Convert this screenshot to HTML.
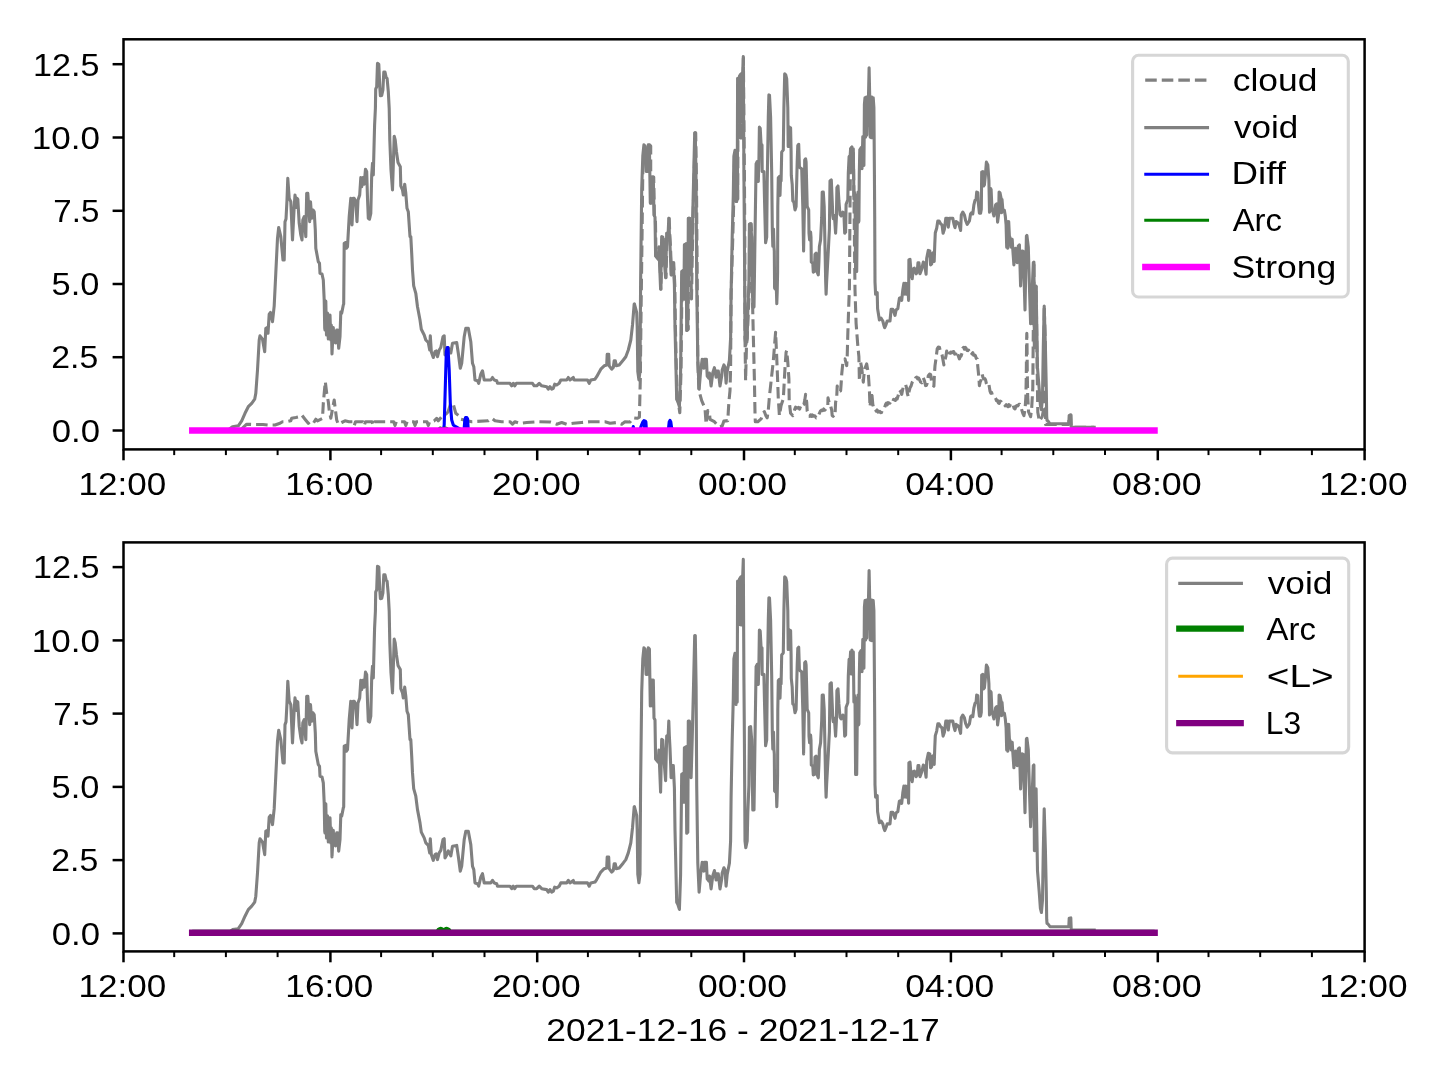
<!DOCTYPE html>
<html><head><meta charset="utf-8"><title>plot</title>
<style>html,body{margin:0;padding:0;background:#fff;}body{width:1440px;height:1080px;overflow:hidden;}svg{display:block;will-change:transform;}text{font-family:"Liberation Sans",sans-serif;fill:#000;}</style>
</head><body>
<svg width="1440" height="1080" viewBox="0 0 1440 1080">
<rect x="0" y="0" width="1440" height="1080" fill="#ffffff"/>
<defs><clipPath id="c1"><rect x="123.5" y="39.3" width="1241.1" height="410.09999999999997"/></clipPath><clipPath id="c2"><rect x="123.5" y="542.4" width="1241.1" height="409.0"/></clipPath></defs>
<g clip-path="url(#c1)" fill="none" stroke-linejoin="round">
<polyline points="192.2,430.5 240.0,430.3 246.7,424.2 253.0,424.5 263.0,424.5 268.0,425.0 275.0,425.0 280.0,423.3 282.5,421.7 286.7,421.7 290.8,420.8 291.7,418.3 295.8,417.5 299.2,416.7 301.7,415.0 305.0,419.2 308.3,423.3 310.0,421.7 313.3,423.3 315.8,419.2 317.5,420.8 322.5,418.3 323.3,403.3 324.2,393.3 325.3,381.7 326.7,393.3 328.3,401.7 329.2,410.0 330.8,418.3 332.0,411.7 334.2,400.0 335.0,406.7 336.7,420.0 338.3,424.2 341.7,422.5 345.0,420.8 349.0,421.7 352.9,421.7 354.2,425.6 355.5,421.7 362.9,421.7 364.2,425.6 365.5,421.7 372.0,421.7 373.3,425.6 374.6,421.7 393.7,421.7 395.0,425.6 396.3,421.7 404.5,421.7 405.8,425.6 407.1,421.7 413.7,421.7 415.0,425.6 416.3,421.7 427.0,421.7 428.3,425.6 429.6,421.7 434.0,421.0 436.7,418.3 438.3,420.8 441.7,416.7 445.0,415.0 448.0,412.0 450.8,403.3 453.3,404.2 455.8,413.3 460.0,416.7 460.8,419.2 471.7,421.7 488.3,420.8 491.7,418.3 495.0,420.8 501.7,421.7 510.0,421.7 512.5,424.2 515.0,421.7 520.0,423.3 526.7,422.5 538.3,421.7 550.0,422.0 556.7,424.2 561.7,422.5 566.7,424.2 573.3,423.3 581.7,422.5 590.0,421.7 596.7,421.7 605.0,421.7 610.0,423.3 616.7,422.5 621.7,424.2 625.0,421.7 630.0,422.0 633.3,417.8 637.2,418.3 639.4,417.2 640.3,379.4 641.2,300.0 642.0,240.0 642.8,170.0 645.2,144.9 646.3,146.1 647.4,171.5 648.5,171.5 649.6,144.9 650.7,146.1 650.7,203.1 652.4,177.1 652.9,203.1 653.7,177.1 654.4,215.1 655.4,217.1 656.0,256.0 658.7,259.3 659.3,247.1 661.0,289.3 662.1,236.5 663.2,237.1 664.3,256.0 666.0,277.7 667.1,233.2 668.6,232.1 669.2,218.2 669.7,232.1 670.4,245.1 671.0,260.4 671.5,274.9 673.2,262.7 673.7,262.7 674.8,284.9 675.4,327.1 677.1,399.3 678.2,401.5 679.8,412.8 681.0,371.5 682.1,271.5 683.7,270.4 684.3,299.3 684.8,244.9 686.5,243.8 687.1,330.4 688.2,329.3 688.7,218.2 689.8,218.2 691.5,299.0 692.6,237.1 693.9,183.8 695.1,132.7 695.7,132.7 696.5,183.8 697.8,360.4 698.9,390.6 701.7,400.6 705.0,408.3 706.1,423.9 707.8,410.6 709.4,411.7 710.0,419.4 714.4,421.7 718.9,426.7 722.2,426.1 723.9,421.1 727.8,420.6 728.3,411.7 728.9,401.7 730.0,390.6 730.6,368.3 731.1,293.8 732.8,237.1 733.9,194.9 734.5,156.0 735.6,150.4 736.7,201.5 737.3,150.4 737.8,199.1 738.0,90.0 738.6,140.0 739.4,78.0 740.2,138.0 740.9,76.0 741.6,140.0 742.3,74.0 742.9,120.0 743.4,58.0 743.9,120.0 744.4,172.7 744.8,237.0 745.0,338.0 745.6,380.6 746.5,345.0 747.2,338.0 748.4,310.4 749.5,282.7 750.0,224.3 751.2,223.8 751.7,237.0 752.5,300.0 753.3,335.0 754.4,379.4 755.0,412.8 755.3,421.7 757.8,421.7 761.1,418.9 763.3,412.8 764.4,411.7 766.0,416.0 767.2,417.8 768.3,410.0 769.4,396.7 771.1,381.1 773.3,361.1 775.6,332.2 776.7,356.7 777.8,384.4 778.3,398.9 779.4,415.6 781.1,405.6 783.3,398.9 784.4,378.9 785.0,367.8 786.1,352.2 786.7,350.6 787.8,362.2 788.9,378.9 789.2,401.1 790.6,413.3 792.8,415.6 793.7,413.5 794.7,409.3 795.6,407.2 796.7,408.2 797.8,407.8 798.6,407.4 799.5,409.1 800.3,407.9 801.1,408.9 802.0,408.1 803.0,405.2 803.9,404.4 804.8,400.1 805.6,394.4 806.7,402.2 807.2,411.1 808.0,412.7 808.9,415.6 809.7,416.3 810.6,414.9 811.4,416.3 812.2,414.9 813.1,416.3 813.9,415.6 815.0,416.0 816.1,417.8 816.9,417.4 817.8,414.9 818.6,415.1 819.4,413.3 820.5,410.9 821.7,410.0 822.7,410.6 823.7,409.0 824.6,410.2 825.6,409.4 826.7,407.3 827.8,406.7 828.0,397.8 829.0,402.0 829.9,405.4 830.8,406.6 831.7,410.0 832.2,415.6 833.1,416.3 834.1,414.9 835.0,415.6 835.6,402.2 836.7,397.8 837.2,386.0 838.0,391.0 840.6,391.0 841.1,384.4 841.7,374.4 842.8,363.3 845.0,358.9 846.7,365.6 847.2,356.7 847.8,334.4 848.9,301.1 849.4,290.0 850.0,210.0 850.6,149.0 851.9,147.1 853.3,149.0 854.0,200.0 855.0,290.0 856.1,323.3 857.8,345.6 858.9,356.7 859.4,381.1 860.6,362.2 861.7,367.8 863.3,382.2 864.4,370.0 866.7,363.9 868.3,373.3 869.4,390.0 870.0,406.7 871.7,392.0 872.8,404.4 873.6,407.8 874.4,409.4 875.3,409.0 876.2,411.2 877.1,409.9 878.0,412.1 878.9,411.7 879.8,411.4 880.6,412.8 881.5,412.6 882.4,409.6 883.3,409.4 884.5,407.8 885.6,404.4 886.4,403.2 887.2,404.8 888.1,402.7 888.9,403.3 890.0,403.1 891.1,401.1 891.9,399.9 892.8,401.4 893.6,399.4 894.4,400.0 895.3,400.5 896.3,398.4 897.2,398.9 898.3,395.3 899.4,390.0 900.5,391.3 901.7,394.4 903.3,386.7 904.5,386.4 905.6,384.4 906.5,387.6 907.4,393.5 908.3,396.7 909.1,391.4 910.0,387.8 911.1,385.9 912.2,382.2 913.0,380.8 913.9,381.1 914.8,380.7 915.8,377.6 916.7,377.2 917.6,378.8 918.5,377.8 919.4,379.4 920.5,382.0 921.7,382.8 923.3,377.8 924.5,380.8 925.6,385.6 926.4,385.4 927.2,383.3 928.3,375.6 929.5,374.1 930.6,374.4 931.7,382.2 932.8,385.0 933.9,386.1 934.4,374.4 935.0,365.6 936.1,357.8 937.2,348.9 938.3,347.1 939.4,347.2 940.2,350.6 941.1,352.2 942.0,354.6 942.8,358.9 943.9,365.0 945.0,360.0 945.9,356.4 946.7,351.1 948.3,356.7 949.5,353.6 950.6,352.2 951.7,352.8 952.8,351.7 953.7,351.5 954.7,354.1 955.6,353.9 956.4,351.6 957.2,351.1 958.3,355.9 959.4,358.9 960.2,356.6 961.1,356.1 962.0,353.1 962.8,348.3 963.6,347.4 964.5,349.2 965.3,347.4 966.1,348.3 967.0,350.4 967.8,350.6 968.6,350.1 969.5,352.3 970.3,350.9 971.1,352.2 971.9,353.8 972.8,352.7 973.6,355.2 974.4,355.0 975.3,355.4 976.3,358.5 977.2,358.9 977.8,366.7 978.9,377.8 979.4,385.6 980.2,381.9 981.1,380.0 982.2,374.4 983.0,377.5 983.9,378.9 984.8,378.6 985.6,380.0 986.4,383.7 987.2,385.6 988.0,384.1 988.9,384.4 990.0,391.1 990.8,393.1 991.6,392.5 992.5,395.4 993.3,395.6 994.5,396.1 995.6,398.3 996.5,400.7 997.4,400.4 998.3,402.8 999.2,403.3 1000.2,401.2 1001.1,401.7 1002.2,403.7 1003.3,403.9 1004.3,403.6 1005.2,405.9 1006.2,404.7 1007.2,406.1 1008.0,406.7 1008.9,404.6 1009.7,406.1 1010.5,404.1 1011.4,405.6 1012.2,404.4 1013.1,405.0 1014.1,408.3 1015.0,408.9 1015.9,406.4 1016.7,405.6 1017.8,405.9 1018.9,404.4 1019.8,404.4 1020.6,406.1 1022.8,413.3 1023.9,415.6 1025.0,410.0 1025.9,396.7 1026.3,374.4 1026.6,341.1 1026.8,333.3 1027.0,341.1 1027.3,374.4 1027.7,396.7 1028.6,412.0 1030.6,416.7 1031.7,407.8 1032.8,387.8 1033.3,330.0 1033.9,262.1 1034.4,347.7 1036.1,286.0 1037.2,370.0 1037.8,412.2 1039.4,421.1 1042.2,416.7 1043.9,407.8 1044.2,306.0 1045.4,347.0 1045.6,424.4 1050.0,424.5 1068.8,424.5 1069.2,415.4 1070.8,415.0 1071.2,426.8 1072.0,427.2 1094.2,427.2" stroke="#808080" stroke-width="3.1" stroke-dasharray="11.56 5" stroke-linecap="butt"/>
<polyline points="192.2,430.5 228.0,430.3 232.5,426.7 238.3,425.8 241.7,420.8 245.0,413.3 248.3,406.7 251.7,403.3 254.7,399.2 255.8,393.3 257.5,370.0 259.2,340.0 260.0,335.8 262.5,339.2 264.7,351.7 265.8,328.3 267.5,327.5 268.0,333.3 269.2,314.2 270.5,312.5 272.5,321.7 274.2,305.8 275.8,273.0 277.5,238.3 278.7,227.5 280.8,236.7 283.0,260.0 284.2,260.0 285.0,221.7 286.0,219.0 287.0,200.0 287.8,178.3 289.2,198.3 290.8,201.7 292.5,240.0 294.2,206.7 295.0,195.0 296.3,207.5 297.0,198.3 297.8,199.2 299.2,223.3 300.8,235.0 302.0,240.0 302.8,220.0 304.2,216.7 305.8,236.7 306.7,193.3 307.8,193.3 309.7,221.7 310.5,201.7 311.7,218.3 313.0,210.0 314.2,211.7 315.3,230.0 315.8,248.3 318.3,261.7 319.5,263.3 320.0,273.3 322.0,274.0 323.3,280.0 324.2,300.0 324.7,328.0 325.0,330.0 325.8,301.0 326.5,335.0 327.5,313.0 328.3,339.0 330.0,315.0 330.8,340.0 331.3,325.0 332.0,354.0 333.3,327.5 334.0,342.0 335.0,331.7 335.5,343.0 336.7,330.0 337.5,330.0 338.7,348.3 340.0,336.7 340.8,311.7 341.7,313.3 343.3,305.0 343.7,304.0 344.2,243.3 345.8,242.5 346.3,248.3 347.5,246.7 349.2,216.7 350.8,198.3 352.0,225.0 353.3,198.3 354.2,198.3 355.8,201.7 357.0,221.7 358.0,200.0 359.7,195.0 360.8,177.5 361.7,186.7 363.0,177.5 364.2,184.2 365.5,169.2 366.7,171.7 367.5,198.3 368.3,218.3 369.5,219.2 370.8,213.3 371.7,175.0 372.5,163.3 373.3,175.0 374.2,140.0 374.6,125.0 375.4,108.3 375.7,89.2 376.7,86.7 377.5,63.3 378.8,64.2 379.8,87.5 380.4,95.8 381.7,95.4 382.9,90.0 383.8,72.0 385.0,72.0 386.2,77.5 387.1,78.3 388.3,91.7 389.2,108.3 389.8,140.0 391.0,170.0 392.5,190.0 393.3,165.0 394.2,136.2 395.2,140.0 396.5,152.0 398.0,162.5 400.3,166.7 400.8,185.8 402.5,190.0 403.3,195.0 404.7,184.2 405.8,193.3 407.0,208.3 408.3,211.7 410.0,236.7 410.8,236.7 411.7,253.3 412.5,270.0 413.7,285.8 415.8,293.3 417.5,306.7 420.0,320.0 421.3,329.2 424.2,335.0 425.8,340.0 428.3,342.5 429.7,350.0 430.3,335.8 431.3,351.7 433.3,357.5 435.0,351.7 436.2,351.0 437.5,356.7 439.2,350.0 440.8,347.5 443.0,336.7 444.2,335.8 445.0,355.0 446.7,352.0 448.3,348.0 450.8,353.0 452.5,343.3 456.7,342.5 458.3,353.3 460.3,368.3 461.7,363.3 464.2,336.7 465.8,328.3 468.3,328.3 470.8,341.7 472.5,363.3 473.8,366.7 475.0,380.0 477.5,380.8 478.7,383.3 480.8,374.2 482.5,370.8 484.2,380.0 490.8,380.0 492.5,377.5 494.2,380.0 496.7,380.8 497.5,383.3 510.0,383.3 511.7,385.8 513.3,383.3 514.7,385.8 516.3,383.3 532.5,383.3 534.2,385.8 536.7,385.8 539.2,383.3 541.7,385.8 546.7,386.7 548.3,389.2 550.0,386.7 551.7,389.2 553.3,388.3 554.7,384.2 556.7,385.0 559.2,383.3 560.8,380.0 566.7,380.0 568.3,377.5 570.0,380.0 573.3,377.5 574.2,380.0 587.5,380.0 589.2,383.3 590.8,380.0 595.0,379.2 596.7,376.7 600.8,369.2 604.2,365.8 606.7,365.0 607.2,354.2 608.7,354.2 609.2,365.8 611.7,369.2 613.3,367.5 614.2,360.8 615.3,360.8 616.3,365.8 619.2,365.0 623.3,360.0 625.8,356.7 628.3,350.0 630.8,340.0 632.5,325.0 634.2,304.0 634.4,303.8 636.7,312.7 637.2,327.1 637.8,371.5 638.9,379.9 640.0,371.5 640.6,282.7 641.7,189.3 642.8,156.0 643.9,144.9 645.0,146.1 646.1,171.5 647.2,171.5 648.3,144.9 649.4,146.1 650.3,203.1 652.0,177.1 652.5,203.1 653.3,177.1 654.0,215.1 655.0,217.1 655.6,256.0 658.3,259.3 658.9,247.1 660.6,289.3 661.7,236.5 662.8,237.1 663.9,256.0 665.6,277.7 666.7,233.2 668.2,232.1 668.8,218.2 669.3,232.1 670.0,245.1 670.6,260.4 671.1,274.9 672.8,262.7 673.3,262.7 674.4,284.9 675.0,327.1 676.7,399.3 677.8,401.5 679.4,406.5 680.6,371.5 681.7,271.5 683.3,270.4 683.9,299.3 684.4,244.9 686.1,243.8 686.7,330.4 687.8,329.3 688.3,218.2 689.4,218.2 691.1,274.9 692.2,237.1 693.5,183.8 694.7,132.7 695.3,132.7 696.1,183.8 696.7,282.7 697.8,360.4 699.1,389.3 700.6,371.5 702.2,359.3 703.9,368.2 704.4,359.3 706.4,359.3 707.2,376.0 708.9,378.2 709.5,373.1 711.1,386.0 712.8,372.7 714.4,367.7 716.1,377.1 716.7,371.0 718.3,371.0 720.0,386.0 721.7,376.0 722.2,370.1 723.9,364.9 725.0,367.1 726.1,383.2 727.2,371.5 729.4,360.4 730.6,338.2 731.1,293.8 732.2,237.1 733.3,194.9 733.9,156.0 735.0,150.4 736.1,201.5 736.7,150.4 737.2,199.1 737.6,78.2 738.5,122.1 739.5,76.1 740.6,74.3 741.2,122.1 741.8,73.1 742.3,117.1 742.8,70.1 743.3,56.5 743.9,172.7 744.4,237.1 745.0,338.2 745.8,344.9 747.2,338.1 747.8,310.4 748.9,282.7 749.4,224.3 750.6,223.8 751.7,237.1 752.8,307.1 753.5,290.1 754.0,307.1 755.0,237.1 756.1,163.8 757.2,161.5 758.3,181.5 758.9,161.5 759.4,127.1 760.2,128.1 761.1,144.9 762.0,144.9 762.2,171.5 763.9,171.5 764.4,194.9 765.6,242.7 766.7,237.1 767.2,183.8 768.3,117.1 768.9,94.9 769.5,95.1 770.6,117.1 771.7,172.7 772.3,228.1 772.8,246.1 773.5,229.1 774.0,247.1 774.3,251.1 774.6,288.1 776.4,290.1 776.8,303.8 777.2,292.1 777.6,272.1 777.8,206.5 778.3,177.7 779.4,176.5 780.0,195.4 780.6,177.1 781.1,181.0 781.7,152.1 783.3,149.9 783.9,107.7 784.7,73.8 785.8,75.1 786.7,78.8 787.8,107.7 788.2,146.5 788.9,126.5 789.6,146.5 790.6,127.7 791.1,152.1 791.3,175.4 792.2,184.3 792.8,201.0 793.9,202.1 795.0,209.9 796.1,206.5 797.2,162.1 797.8,145.4 798.7,144.3 799.4,166.5 800.0,167.7 801.7,168.8 802.8,206.5 803.6,251.0 804.4,208.8 804.7,159.9 805.6,158.8 806.1,162.1 807.2,206.5 808.7,209.9 809.0,233.2 809.6,239.9 810.6,232.1 811.0,237.1 811.3,262.1 812.8,263.2 813.3,272.1 814.4,271.5 815.0,254.3 816.1,253.2 817.2,272.1 818.3,274.9 818.9,262.1 819.4,246.5 820.6,239.9 821.7,217.7 822.2,192.1 823.3,192.1 824.2,206.5 825.7,282.1 826.1,294.3 826.6,282.1 828.3,251.0 829.4,228.8 830.0,181.0 831.3,179.9 832.2,201.0 832.8,215.4 833.3,218.8 834.4,215.4 835.6,233.2 836.4,217.7 836.9,187.7 838.0,186.0 838.9,201.0 840.0,214.3 841.1,216.0 842.8,212.1 843.9,213.2 844.7,233.2 845.6,232.1 846.1,204.3 847.8,199.9 848.3,173.2 849.1,156.5 850.2,155.4 850.6,148.8 851.2,171.1 851.9,147.1 852.5,171.1 853.3,148.8 853.6,172.1 853.9,199.1 854.3,192.1 855.0,195.4 855.6,271.5 856.7,271.5 857.2,223.2 858.0,192.1 858.5,222.1 858.9,221.0 859.3,173.1 859.8,149.9 861.1,147.7 862.0,168.8 862.8,136.5 863.9,165.4 864.2,134.9 864.4,104.3 865.0,97.7 865.6,137.1 866.2,97.1 866.8,135.1 867.4,97.1 868.0,125.1 868.5,96.5 869.1,67.7 869.7,96.5 870.2,137.1 870.8,97.1 871.4,137.7 872.0,97.1 872.6,137.7 873.2,97.7 873.9,107.7 874.4,172.1 874.7,217.1 875.0,282.1 875.6,294.3 877.2,292.7 877.6,308.8 879.4,319.9 881.1,318.2 882.8,321.0 883.9,325.4 884.7,327.7 886.1,324.3 887.2,321.0 890.0,321.0 891.1,309.3 892.8,309.3 893.9,312.1 895.0,315.4 896.1,309.9 897.8,308.8 898.3,305.4 899.4,298.2 900.6,297.7 901.7,300.4 902.8,289.9 903.9,283.2 904.8,294.1 905.6,283.2 906.1,294.3 907.8,283.2 908.6,300.4 908.9,259.9 910.0,259.3 911.1,273.2 912.2,278.8 913.3,268.8 914.4,268.2 916.1,273.8 917.2,272.1 918.0,262.7 918.9,262.7 920.0,273.8 921.7,269.1 923.3,262.1 924.4,263.2 926.1,274.3 926.7,258.2 928.3,250.4 929.8,251.0 930.6,264.9 931.7,263.8 932.2,253.8 933.3,252.7 934.2,261.5 934.8,243.8 935.3,232.7 936.7,228.2 937.8,221.0 939.1,221.0 940.6,223.8 942.0,224.9 943.1,233.2 944.4,229.3 945.8,218.2 947.2,218.2 948.3,227.1 949.4,218.2 952.8,218.2 953.9,223.8 955.0,227.7 956.1,221.5 957.8,222.7 959.1,224.9 960.6,230.4 961.3,214.9 962.8,212.1 964.4,214.9 965.6,220.4 967.2,224.3 969.4,221.0 970.6,213.8 971.7,212.7 972.8,213.8 973.9,204.9 975.0,200.4 976.1,199.3 976.7,192.1 977.8,192.7 978.3,202.7 979.4,213.2 980.6,213.2 981.3,209.3 981.7,172.1 982.8,171.5 983.6,186.0 984.4,184.9 985.6,172.7 986.4,162.1 987.8,164.9 988.9,180.4 989.5,212.1 990.3,188.2 991.1,189.3 992.0,210.1 992.8,211.5 993.9,216.0 995.6,204.9 996.7,203.8 997.6,222.1 998.7,213.8 999.1,192.1 1000.0,192.7 1001.1,198.2 1001.6,212.7 1002.0,199.3 1002.8,209.3 1004.4,210.4 1005.3,216.0 1006.1,224.9 1006.7,247.1 1007.2,221.5 1007.8,248.2 1008.7,221.5 1009.4,236.0 1010.6,239.3 1011.1,247.1 1012.2,239.3 1012.8,249.3 1013.9,264.9 1015.6,248.2 1017.2,262.7 1018.3,246.0 1019.4,244.9 1020.6,286.0 1022.2,251.0 1023.3,251.5 1025.0,309.9 1026.4,236.0 1026.9,235.4 1028.3,247.1 1029.4,286.0 1030.6,323.8 1031.7,302.7 1033.3,262.7 1033.9,262.1 1034.4,347.7 1036.1,286.0 1037.5,367.9 1039.2,388.8 1040.4,405.4 1041.4,409.6 1042.5,397.1 1043.3,347.1 1044.2,306.0 1045.4,347.1 1046.3,388.8 1046.7,416.3 1047.0,420.4 1047.9,420.9 1050.0,423.8 1068.8,423.8 1069.2,415.4 1070.8,415.0 1071.2,426.7 1072.0,427.2 1094.2,427.2" stroke="#808080" stroke-width="3.1" stroke-linecap="square"/>
<polyline points="192.2,430.5 443.3,430.5 444.2,425.0 445.3,386.7 446.3,351.7 447.2,347.5 448.0,347.5 449.2,370.0 450.3,403.3 451.7,420.0 453.3,425.0 455.8,426.7 460.0,429.0 464.0,430.5 464.8,420.0 465.6,417.5 466.2,428.0 466.8,417.5 467.6,419.0 468.3,430.5 632.5,430.5 633.3,426.5 634.0,430.5 639.8,430.5 641.5,425.0 642.8,422.0 643.9,420.6 644.5,427.0 645.2,421.0 645.9,422.0 646.4,430.5 668.3,430.5 669.2,422.0 670.0,420.4 670.8,422.0 671.5,427.0 672.8,430.5 1154.6,430.5" stroke="#0000ff" stroke-width="3.1" stroke-linecap="square"/>
<polyline points="192.2,430.5 438.0,430.5 440.0,428.0 441.5,428.5 443.0,430.0 445.0,428.0 447.0,428.5 449.0,430.5 1154.6,430.5" stroke="#008000" stroke-width="3.1" stroke-linecap="square"/>
<line x1="192.2" y1="430.5" x2="1154.6" y2="430.5" stroke="#ff00ff" stroke-width="6.3" stroke-linecap="square"/>
</g>
<rect x="123.5" y="39.3" width="1241.1" height="410.09999999999997" fill="none" stroke="#000" stroke-width="2.5" stroke-linejoin="miter"/>
<line x1="123.5" y1="449.4" x2="123.5" y2="460.3" stroke="#000" stroke-width="2.5"/>
<line x1="174.2" y1="449.4" x2="174.2" y2="455.1" stroke="#000" stroke-width="2.0"/>
<line x1="225.9" y1="449.4" x2="225.9" y2="455.1" stroke="#000" stroke-width="2.0"/>
<line x1="277.6" y1="449.4" x2="277.6" y2="455.1" stroke="#000" stroke-width="2.0"/>
<line x1="330.4" y1="449.4" x2="330.4" y2="460.3" stroke="#000" stroke-width="2.5"/>
<line x1="381.1" y1="449.4" x2="381.1" y2="455.1" stroke="#000" stroke-width="2.0"/>
<line x1="432.8" y1="449.4" x2="432.8" y2="455.1" stroke="#000" stroke-width="2.0"/>
<line x1="484.5" y1="449.4" x2="484.5" y2="455.1" stroke="#000" stroke-width="2.0"/>
<line x1="537.2" y1="449.4" x2="537.2" y2="460.3" stroke="#000" stroke-width="2.5"/>
<line x1="587.9" y1="449.4" x2="587.9" y2="455.1" stroke="#000" stroke-width="2.0"/>
<line x1="639.6" y1="449.4" x2="639.6" y2="455.1" stroke="#000" stroke-width="2.0"/>
<line x1="691.3" y1="449.4" x2="691.3" y2="455.1" stroke="#000" stroke-width="2.0"/>
<line x1="744.0" y1="449.4" x2="744.0" y2="460.3" stroke="#000" stroke-width="2.5"/>
<line x1="794.8" y1="449.4" x2="794.8" y2="455.1" stroke="#000" stroke-width="2.0"/>
<line x1="846.5" y1="449.4" x2="846.5" y2="455.1" stroke="#000" stroke-width="2.0"/>
<line x1="898.2" y1="449.4" x2="898.2" y2="455.1" stroke="#000" stroke-width="2.0"/>
<line x1="950.9" y1="449.4" x2="950.9" y2="460.3" stroke="#000" stroke-width="2.5"/>
<line x1="1001.6" y1="449.4" x2="1001.6" y2="455.1" stroke="#000" stroke-width="2.0"/>
<line x1="1053.3" y1="449.4" x2="1053.3" y2="455.1" stroke="#000" stroke-width="2.0"/>
<line x1="1105.0" y1="449.4" x2="1105.0" y2="455.1" stroke="#000" stroke-width="2.0"/>
<line x1="1157.8" y1="449.4" x2="1157.8" y2="460.3" stroke="#000" stroke-width="2.5"/>
<line x1="1208.5" y1="449.4" x2="1208.5" y2="455.1" stroke="#000" stroke-width="2.0"/>
<line x1="1260.2" y1="449.4" x2="1260.2" y2="455.1" stroke="#000" stroke-width="2.0"/>
<line x1="1311.9" y1="449.4" x2="1311.9" y2="455.1" stroke="#000" stroke-width="2.0"/>
<line x1="1364.6" y1="449.4" x2="1364.6" y2="460.3" stroke="#000" stroke-width="2.5"/>
<text x="78.62" y="495.0" font-size="32" textLength="87.67" lengthAdjust="spacingAndGlyphs">12:00</text>
<text x="285.36" y="495.0" font-size="32" textLength="87.93" lengthAdjust="spacingAndGlyphs">16:00</text>
<text x="492.13" y="495.0" font-size="32" textLength="88.57" lengthAdjust="spacingAndGlyphs">20:00</text>
<text x="698.07" y="495.0" font-size="32" textLength="88.84" lengthAdjust="spacingAndGlyphs">00:00</text>
<text x="905.37" y="495.0" font-size="32" textLength="88.94" lengthAdjust="spacingAndGlyphs">04:00</text>
<text x="1111.95" y="495.0" font-size="32" textLength="89.87" lengthAdjust="spacingAndGlyphs">08:00</text>
<text x="1319.36" y="495.0" font-size="32" textLength="88.19" lengthAdjust="spacingAndGlyphs">12:00</text>
<line x1="112.6" y1="430.5" x2="123.5" y2="430.5" stroke="#000" stroke-width="2.5"/>
<text x="51.70" y="441.7" font-size="32" textLength="48.29" lengthAdjust="spacingAndGlyphs">0.0</text>
<line x1="112.6" y1="357.2" x2="123.5" y2="357.2" stroke="#000" stroke-width="2.5"/>
<text x="51.31" y="368.4" font-size="32" textLength="46.94" lengthAdjust="spacingAndGlyphs">2.5</text>
<line x1="112.6" y1="284.0" x2="123.5" y2="284.0" stroke="#000" stroke-width="2.5"/>
<text x="51.60" y="295.2" font-size="32" textLength="47.77" lengthAdjust="spacingAndGlyphs">5.0</text>
<line x1="112.6" y1="210.8" x2="123.5" y2="210.8" stroke="#000" stroke-width="2.5"/>
<text x="53.35" y="221.9" font-size="32" textLength="45.98" lengthAdjust="spacingAndGlyphs">7.5</text>
<line x1="112.6" y1="137.5" x2="123.5" y2="137.5" stroke="#000" stroke-width="2.5"/>
<text x="31.87" y="148.7" font-size="32" textLength="68.17" lengthAdjust="spacingAndGlyphs">10.0</text>
<line x1="112.6" y1="64.2" x2="123.5" y2="64.2" stroke="#000" stroke-width="2.5"/>
<text x="32.94" y="75.5" font-size="32" textLength="66.43" lengthAdjust="spacingAndGlyphs">12.5</text>
<g clip-path="url(#c2)" fill="none" stroke-linejoin="round">
<polyline points="192.2,933.4 228.0,933.2 232.5,929.6 238.3,928.7 241.7,923.7 245.0,916.2 248.3,909.6 251.7,906.2 254.7,902.1 255.8,896.2 257.5,872.9 259.2,842.9 260.0,838.7 262.5,842.1 264.7,854.6 265.8,831.2 267.5,830.4 268.0,836.2 269.2,817.1 270.5,815.4 272.5,824.6 274.2,808.7 275.8,775.9 277.5,741.2 278.7,730.4 280.8,739.6 283.0,762.9 284.2,762.9 285.0,724.6 286.0,721.9 287.0,702.9 287.8,681.2 289.2,701.2 290.8,704.6 292.5,742.9 294.2,709.6 295.0,697.9 296.3,710.4 297.0,701.2 297.8,702.1 299.2,726.2 300.8,737.9 302.0,742.9 302.8,722.9 304.2,719.6 305.8,739.6 306.7,696.2 307.8,696.2 309.7,724.6 310.5,704.6 311.7,721.2 313.0,712.9 314.2,714.6 315.3,732.9 315.8,751.2 318.3,764.6 319.5,766.2 320.0,776.2 322.0,776.9 323.3,782.9 324.2,802.9 324.7,830.9 325.0,832.9 325.8,803.9 326.5,837.9 327.5,815.9 328.3,841.9 330.0,817.9 330.8,842.9 331.3,827.9 332.0,856.9 333.3,830.4 334.0,844.9 335.0,834.6 335.5,845.9 336.7,832.9 337.5,832.9 338.7,851.2 340.0,839.6 340.8,814.6 341.7,816.2 343.3,807.9 343.7,806.9 344.2,746.2 345.8,745.4 346.3,751.2 347.5,749.6 349.2,719.6 350.8,701.2 352.0,727.9 353.3,701.2 354.2,701.2 355.8,704.6 357.0,724.6 358.0,702.9 359.7,697.9 360.8,680.4 361.7,689.6 363.0,680.4 364.2,687.1 365.5,672.1 366.7,674.6 367.5,701.2 368.3,721.2 369.5,722.1 370.8,716.2 371.7,677.9 372.5,666.2 373.3,677.9 374.2,642.9 374.6,627.9 375.4,611.2 375.7,592.1 376.7,589.6 377.5,566.2 378.8,567.1 379.8,590.4 380.4,598.7 381.7,598.3 382.9,592.9 383.8,574.9 385.0,574.9 386.2,580.4 387.1,581.2 388.3,594.6 389.2,611.2 389.8,642.9 391.0,672.9 392.5,692.9 393.3,667.9 394.2,639.1 395.2,642.9 396.5,654.9 398.0,665.4 400.3,669.6 400.8,688.7 402.5,692.9 403.3,697.9 404.7,687.1 405.8,696.2 407.0,711.2 408.3,714.6 410.0,739.6 410.8,739.6 411.7,756.2 412.5,772.9 413.7,788.7 415.8,796.2 417.5,809.6 420.0,822.9 421.3,832.1 424.2,837.9 425.8,842.9 428.3,845.4 429.7,852.9 430.3,838.7 431.3,854.6 433.3,860.4 435.0,854.6 436.2,853.9 437.5,859.6 439.2,852.9 440.8,850.4 443.0,839.6 444.2,838.7 445.0,857.9 446.7,854.9 448.3,850.9 450.8,855.9 452.5,846.2 456.7,845.4 458.3,856.2 460.3,871.2 461.7,866.2 464.2,839.6 465.8,831.2 468.3,831.2 470.8,844.6 472.5,866.2 473.8,869.6 475.0,882.9 477.5,883.7 478.7,886.2 480.8,877.1 482.5,873.7 484.2,882.9 490.8,882.9 492.5,880.4 494.2,882.9 496.7,883.7 497.5,886.2 510.0,886.2 511.7,888.7 513.3,886.2 514.7,888.7 516.3,886.2 532.5,886.2 534.2,888.7 536.7,888.7 539.2,886.2 541.7,888.7 546.7,889.6 548.3,892.1 550.0,889.6 551.7,892.1 553.3,891.2 554.7,887.1 556.7,887.9 559.2,886.2 560.8,882.9 566.7,882.9 568.3,880.4 570.0,882.9 573.3,880.4 574.2,882.9 587.5,882.9 589.2,886.2 590.8,882.9 595.0,882.1 596.7,879.6 600.8,872.1 604.2,868.7 606.7,867.9 607.2,857.1 608.7,857.1 609.2,868.7 611.7,872.1 613.3,870.4 614.2,863.7 615.3,863.7 616.3,868.7 619.2,867.9 623.3,862.9 625.8,859.6 628.3,852.9 630.8,842.9 632.5,827.9 634.2,806.9 634.4,806.7 636.7,815.6 637.2,830.0 637.8,874.4 638.9,882.8 640.0,874.4 640.6,785.6 641.7,692.2 642.8,658.9 643.9,647.8 645.0,649.0 646.1,674.4 647.2,674.4 648.3,647.8 649.4,649.0 650.3,706.0 652.0,680.0 652.5,706.0 653.3,680.0 654.0,718.0 655.0,720.0 655.6,758.9 658.3,762.2 658.9,750.0 660.6,792.2 661.7,739.4 662.8,740.0 663.9,758.9 665.6,780.6 666.7,736.1 668.2,735.0 668.8,721.1 669.3,735.0 670.0,748.0 670.6,763.3 671.1,777.8 672.8,765.6 673.3,765.6 674.4,787.8 675.0,830.0 676.7,902.2 677.8,904.4 679.4,909.4 680.6,874.4 681.7,774.4 683.3,773.3 683.9,802.2 684.4,747.8 686.1,746.7 686.7,833.3 687.8,832.2 688.3,721.1 689.4,721.1 691.1,777.8 692.2,740.0 693.5,686.7 694.7,635.6 695.3,635.6 696.1,686.7 696.7,785.6 697.8,863.3 699.1,892.2 700.6,874.4 702.2,862.2 703.9,871.1 704.4,862.2 706.4,862.2 707.2,878.9 708.9,881.1 709.5,876.0 711.1,888.9 712.8,875.6 714.4,870.6 716.1,880.0 716.7,873.9 718.3,873.9 720.0,888.9 721.7,878.9 722.2,873.0 723.9,867.8 725.0,870.0 726.1,886.1 727.2,874.4 729.4,863.3 730.6,841.1 731.1,796.7 732.2,740.0 733.3,697.8 733.9,658.9 735.0,653.3 736.1,704.4 736.7,653.3 737.2,702.0 737.6,581.1 738.5,625.0 739.5,579.0 740.6,577.2 741.2,625.0 741.8,576.0 742.3,620.0 742.8,573.0 743.3,559.4 743.9,675.6 744.4,740.0 745.0,841.1 745.8,847.8 747.2,841.0 747.8,813.3 748.9,785.6 749.4,727.2 750.6,726.7 751.7,740.0 752.8,810.0 753.5,793.0 754.0,810.0 755.0,740.0 756.1,666.7 757.2,664.4 758.3,684.4 758.9,664.4 759.4,630.0 760.2,631.0 761.1,647.8 762.0,647.8 762.2,674.4 763.9,674.4 764.4,697.8 765.6,745.6 766.7,740.0 767.2,686.7 768.3,620.0 768.9,597.8 769.5,598.0 770.6,620.0 771.7,675.6 772.3,731.0 772.8,749.0 773.5,732.0 774.0,750.0 774.3,754.0 774.6,791.0 776.4,793.0 776.8,806.7 777.2,795.0 777.6,775.0 777.8,709.4 778.3,680.6 779.4,679.4 780.0,698.3 780.6,680.0 781.1,683.9 781.7,655.0 783.3,652.8 783.9,610.6 784.7,576.7 785.8,578.0 786.7,581.7 787.8,610.6 788.2,649.4 788.9,629.4 789.6,649.4 790.6,630.6 791.1,655.0 791.3,678.3 792.2,687.2 792.8,703.9 793.9,705.0 795.0,712.8 796.1,709.4 797.2,665.0 797.8,648.3 798.7,647.2 799.4,669.4 800.0,670.6 801.7,671.7 802.8,709.4 803.6,753.9 804.4,711.7 804.7,662.8 805.6,661.7 806.1,665.0 807.2,709.4 808.7,712.8 809.0,736.1 809.6,742.8 810.6,735.0 811.0,740.0 811.3,765.0 812.8,766.1 813.3,775.0 814.4,774.4 815.0,757.2 816.1,756.1 817.2,775.0 818.3,777.8 818.9,765.0 819.4,749.4 820.6,742.8 821.7,720.6 822.2,695.0 823.3,695.0 824.2,709.4 825.7,785.0 826.1,797.2 826.6,785.0 828.3,753.9 829.4,731.7 830.0,683.9 831.3,682.8 832.2,703.9 832.8,718.3 833.3,721.7 834.4,718.3 835.6,736.1 836.4,720.6 836.9,690.6 838.0,688.9 838.9,703.9 840.0,717.2 841.1,718.9 842.8,715.0 843.9,716.1 844.7,736.1 845.6,735.0 846.1,707.2 847.8,702.8 848.3,676.1 849.1,659.4 850.2,658.3 850.6,651.7 851.2,674.0 851.9,650.0 852.5,674.0 853.3,651.7 853.6,675.0 853.9,702.0 854.3,695.0 855.0,698.3 855.6,774.4 856.7,774.4 857.2,726.1 858.0,695.0 858.5,725.0 858.9,723.9 859.3,676.0 859.8,652.8 861.1,650.6 862.0,671.7 862.8,639.4 863.9,668.3 864.2,637.8 864.4,607.2 865.0,600.6 865.6,640.0 866.2,600.0 866.8,638.0 867.4,600.0 868.0,628.0 868.5,599.4 869.1,570.6 869.7,599.4 870.2,640.0 870.8,600.0 871.4,640.6 872.0,600.0 872.6,640.6 873.2,600.6 873.9,610.6 874.4,675.0 874.7,720.0 875.0,785.0 875.6,797.2 877.2,795.6 877.6,811.7 879.4,822.8 881.1,821.1 882.8,823.9 883.9,828.3 884.7,830.6 886.1,827.2 887.2,823.9 890.0,823.9 891.1,812.2 892.8,812.2 893.9,815.0 895.0,818.3 896.1,812.8 897.8,811.7 898.3,808.3 899.4,801.1 900.6,800.6 901.7,803.3 902.8,792.8 903.9,786.1 904.8,797.0 905.6,786.1 906.1,797.2 907.8,786.1 908.6,803.3 908.9,762.8 910.0,762.2 911.1,776.1 912.2,781.7 913.3,771.7 914.4,771.1 916.1,776.7 917.2,775.0 918.0,765.6 918.9,765.6 920.0,776.7 921.7,772.0 923.3,765.0 924.4,766.1 926.1,777.2 926.7,761.1 928.3,753.3 929.8,753.9 930.6,767.8 931.7,766.7 932.2,756.7 933.3,755.6 934.2,764.4 934.8,746.7 935.3,735.6 936.7,731.1 937.8,723.9 939.1,723.9 940.6,726.7 942.0,727.8 943.1,736.1 944.4,732.2 945.8,721.1 947.2,721.1 948.3,730.0 949.4,721.1 952.8,721.1 953.9,726.7 955.0,730.6 956.1,724.4 957.8,725.6 959.1,727.8 960.6,733.3 961.3,717.8 962.8,715.0 964.4,717.8 965.6,723.3 967.2,727.2 969.4,723.9 970.6,716.7 971.7,715.6 972.8,716.7 973.9,707.8 975.0,703.3 976.1,702.2 976.7,695.0 977.8,695.6 978.3,705.6 979.4,716.1 980.6,716.1 981.3,712.2 981.7,675.0 982.8,674.4 983.6,688.9 984.4,687.8 985.6,675.6 986.4,665.0 987.8,667.8 988.9,683.3 989.5,715.0 990.3,691.1 991.1,692.2 992.0,713.0 992.8,714.4 993.9,718.9 995.6,707.8 996.7,706.7 997.6,725.0 998.7,716.7 999.1,695.0 1000.0,695.6 1001.1,701.1 1001.6,715.6 1002.0,702.2 1002.8,712.2 1004.4,713.3 1005.3,718.9 1006.1,727.8 1006.7,750.0 1007.2,724.4 1007.8,751.1 1008.7,724.4 1009.4,738.9 1010.6,742.2 1011.1,750.0 1012.2,742.2 1012.8,752.2 1013.9,767.8 1015.6,751.1 1017.2,765.6 1018.3,748.9 1019.4,747.8 1020.6,788.9 1022.2,753.9 1023.3,754.4 1025.0,812.8 1026.4,738.9 1026.9,738.3 1028.3,750.0 1029.4,788.9 1030.6,826.7 1031.7,805.6 1033.3,765.6 1033.9,765.0 1034.4,850.6 1036.1,788.9 1037.5,870.8 1039.2,891.7 1040.4,908.3 1041.4,912.5 1042.5,900.0 1043.3,850.0 1044.2,808.9 1045.4,850.0 1046.3,891.7 1046.7,919.2 1047.0,923.3 1047.9,923.8 1050.0,926.7 1068.8,926.7 1069.2,918.3 1070.8,917.9 1071.2,929.6 1072.0,930.1 1094.2,930.1" stroke="#808080" stroke-width="3.1" stroke-linecap="square"/>
<polyline points="192.2,932.7 437.6,932.7 439.2,930.6 440.6,929.7 442.4,930.6 443.7,931.8 445.0,930.6 446.7,929.7 448.2,930.6 449.8,932.7 1154.6,932.7" stroke="#008000" stroke-width="6.0" stroke-linecap="butt"/>
<line x1="192.2" y1="932.7" x2="1154.6" y2="932.7" stroke="#ffa500" stroke-width="3.1" stroke-linecap="butt"/>
<line x1="192.2" y1="932.7" x2="1154.6" y2="932.7" stroke="#800080" stroke-width="6.5" stroke-linecap="square"/>
</g>
<rect x="123.5" y="542.4" width="1241.1" height="409.0" fill="none" stroke="#000" stroke-width="2.5" stroke-linejoin="miter"/>
<line x1="123.5" y1="951.4" x2="123.5" y2="962.3" stroke="#000" stroke-width="2.5"/>
<line x1="174.2" y1="951.4" x2="174.2" y2="957.1" stroke="#000" stroke-width="2.0"/>
<line x1="225.9" y1="951.4" x2="225.9" y2="957.1" stroke="#000" stroke-width="2.0"/>
<line x1="277.6" y1="951.4" x2="277.6" y2="957.1" stroke="#000" stroke-width="2.0"/>
<line x1="330.4" y1="951.4" x2="330.4" y2="962.3" stroke="#000" stroke-width="2.5"/>
<line x1="381.1" y1="951.4" x2="381.1" y2="957.1" stroke="#000" stroke-width="2.0"/>
<line x1="432.8" y1="951.4" x2="432.8" y2="957.1" stroke="#000" stroke-width="2.0"/>
<line x1="484.5" y1="951.4" x2="484.5" y2="957.1" stroke="#000" stroke-width="2.0"/>
<line x1="537.2" y1="951.4" x2="537.2" y2="962.3" stroke="#000" stroke-width="2.5"/>
<line x1="587.9" y1="951.4" x2="587.9" y2="957.1" stroke="#000" stroke-width="2.0"/>
<line x1="639.6" y1="951.4" x2="639.6" y2="957.1" stroke="#000" stroke-width="2.0"/>
<line x1="691.3" y1="951.4" x2="691.3" y2="957.1" stroke="#000" stroke-width="2.0"/>
<line x1="744.0" y1="951.4" x2="744.0" y2="962.3" stroke="#000" stroke-width="2.5"/>
<line x1="794.8" y1="951.4" x2="794.8" y2="957.1" stroke="#000" stroke-width="2.0"/>
<line x1="846.5" y1="951.4" x2="846.5" y2="957.1" stroke="#000" stroke-width="2.0"/>
<line x1="898.2" y1="951.4" x2="898.2" y2="957.1" stroke="#000" stroke-width="2.0"/>
<line x1="950.9" y1="951.4" x2="950.9" y2="962.3" stroke="#000" stroke-width="2.5"/>
<line x1="1001.6" y1="951.4" x2="1001.6" y2="957.1" stroke="#000" stroke-width="2.0"/>
<line x1="1053.3" y1="951.4" x2="1053.3" y2="957.1" stroke="#000" stroke-width="2.0"/>
<line x1="1105.0" y1="951.4" x2="1105.0" y2="957.1" stroke="#000" stroke-width="2.0"/>
<line x1="1157.8" y1="951.4" x2="1157.8" y2="962.3" stroke="#000" stroke-width="2.5"/>
<line x1="1208.5" y1="951.4" x2="1208.5" y2="957.1" stroke="#000" stroke-width="2.0"/>
<line x1="1260.2" y1="951.4" x2="1260.2" y2="957.1" stroke="#000" stroke-width="2.0"/>
<line x1="1311.9" y1="951.4" x2="1311.9" y2="957.1" stroke="#000" stroke-width="2.0"/>
<line x1="1364.6" y1="951.4" x2="1364.6" y2="962.3" stroke="#000" stroke-width="2.5"/>
<text x="78.62" y="997.0" font-size="32" textLength="87.67" lengthAdjust="spacingAndGlyphs">12:00</text>
<text x="285.36" y="997.0" font-size="32" textLength="87.93" lengthAdjust="spacingAndGlyphs">16:00</text>
<text x="492.13" y="997.0" font-size="32" textLength="88.57" lengthAdjust="spacingAndGlyphs">20:00</text>
<text x="698.07" y="997.0" font-size="32" textLength="88.84" lengthAdjust="spacingAndGlyphs">00:00</text>
<text x="905.37" y="997.0" font-size="32" textLength="88.94" lengthAdjust="spacingAndGlyphs">04:00</text>
<text x="1111.95" y="997.0" font-size="32" textLength="89.87" lengthAdjust="spacingAndGlyphs">08:00</text>
<text x="1319.36" y="997.0" font-size="32" textLength="88.19" lengthAdjust="spacingAndGlyphs">12:00</text>
<line x1="112.6" y1="933.4" x2="123.5" y2="933.4" stroke="#000" stroke-width="2.5"/>
<text x="51.70" y="944.6" font-size="32" textLength="48.29" lengthAdjust="spacingAndGlyphs">0.0</text>
<line x1="112.6" y1="860.1" x2="123.5" y2="860.1" stroke="#000" stroke-width="2.5"/>
<text x="51.31" y="871.4" font-size="32" textLength="46.94" lengthAdjust="spacingAndGlyphs">2.5</text>
<line x1="112.6" y1="786.9" x2="123.5" y2="786.9" stroke="#000" stroke-width="2.5"/>
<text x="51.60" y="798.1" font-size="32" textLength="47.77" lengthAdjust="spacingAndGlyphs">5.0</text>
<line x1="112.6" y1="713.6" x2="123.5" y2="713.6" stroke="#000" stroke-width="2.5"/>
<text x="53.35" y="724.9" font-size="32" textLength="45.98" lengthAdjust="spacingAndGlyphs">7.5</text>
<line x1="112.6" y1="640.4" x2="123.5" y2="640.4" stroke="#000" stroke-width="2.5"/>
<text x="31.87" y="651.6" font-size="32" textLength="68.17" lengthAdjust="spacingAndGlyphs">10.0</text>
<line x1="112.6" y1="567.1" x2="123.5" y2="567.1" stroke="#000" stroke-width="2.5"/>
<text x="32.94" y="578.4" font-size="32" textLength="66.43" lengthAdjust="spacingAndGlyphs">12.5</text>
<text x="546.33" y="1040.5" font-size="32" textLength="393.35" lengthAdjust="spacingAndGlyphs">2021-12-16 - 2021-12-17</text>
<rect x="1132.6" y="55.3" width="215.70000000000005" height="241.7" rx="6" ry="6" fill="#ffffff" fill-opacity="0.8" stroke="#cccccc" stroke-opacity="0.8" stroke-width="3.1"/>
<line x1="1145.2" y1="80.1" x2="1209.0" y2="80.1" stroke="#808080" stroke-width="3.1" stroke-dasharray="11.56 5" stroke-linecap="butt"/>
<text x="1232.76" y="90.6" font-size="32" textLength="84.56" lengthAdjust="spacingAndGlyphs">cloud</text>
<line x1="1145.8" y1="127.6" x2="1207.5" y2="127.6" stroke="#808080" stroke-width="3.1" stroke-linecap="square"/>
<text x="1234.09" y="137.5" font-size="32" textLength="64.21" lengthAdjust="spacingAndGlyphs">void</text>
<line x1="1145.8" y1="174.2" x2="1207.5" y2="174.2" stroke="#0000ff" stroke-width="3.1" stroke-linecap="square"/>
<text x="1231.62" y="183.9" font-size="32" textLength="54.41" lengthAdjust="spacingAndGlyphs">Diff</text>
<line x1="1145.8" y1="220.3" x2="1207.5" y2="220.3" stroke="#008000" stroke-width="3.1" stroke-linecap="square"/>
<text x="1232.70" y="231.1" font-size="32" textLength="49.32" lengthAdjust="spacingAndGlyphs">Arc</text>
<line x1="1145.3" y1="267" x2="1206.8" y2="267" stroke="#ff00ff" stroke-width="6.3" stroke-linecap="square"/>
<text x="1231.64" y="277.5" font-size="32" textLength="104.57" lengthAdjust="spacingAndGlyphs">Strong</text>
<rect x="1166.6" y="558.1" width="182.10000000000014" height="194.79999999999995" rx="6" ry="6" fill="#ffffff" fill-opacity="0.8" stroke="#cccccc" stroke-opacity="0.8" stroke-width="3.1"/>
<line x1="1179.8" y1="583.4" x2="1241.4" y2="583.4" stroke="#808080" stroke-width="3.1" stroke-linecap="square"/>
<text x="1267.69" y="594.3" font-size="32" textLength="64.63" lengthAdjust="spacingAndGlyphs">void</text>
<line x1="1179.3" y1="628.6" x2="1240.7" y2="628.6" stroke="#008000" stroke-width="6.3" stroke-linecap="square"/>
<text x="1266.60" y="639.7" font-size="32" textLength="49.22" lengthAdjust="spacingAndGlyphs">Arc</text>
<line x1="1179.8" y1="676.3" x2="1241.4" y2="676.3" stroke="#ffa500" stroke-width="3.1" stroke-linecap="square"/>
<text x="1266.86" y="686.5" font-size="32" textLength="66.74" lengthAdjust="spacingAndGlyphs">&lt;L&gt;</text>
<line x1="1179.3" y1="723.1" x2="1240.7" y2="723.1" stroke="#800080" stroke-width="6.3" stroke-linecap="square"/>
<text x="1265.82" y="733.8" font-size="32" textLength="35.26" lengthAdjust="spacingAndGlyphs">L3</text>
</svg></body></html>
